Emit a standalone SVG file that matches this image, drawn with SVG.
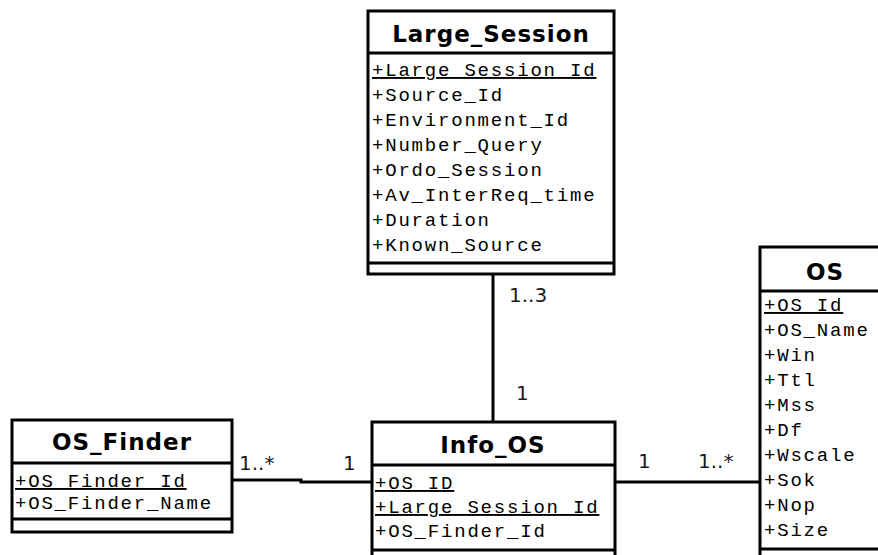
<svg xmlns="http://www.w3.org/2000/svg" width="878" height="555" viewBox="0 0 878 555">
  <style>
    .box { fill: #ffffff; stroke: #000000; stroke-width: 3; }
    .div { stroke: #000000; stroke-width: 3; }
    .title { font-family: "DejaVu Sans", "Liberation Sans", sans-serif; font-weight: bold; font-size: 23px; letter-spacing: 1px; text-anchor: middle; fill: #000000; }
    .attr { font-family: "Liberation Mono", "DejaVu Sans Mono", monospace; font-size: 19px; letter-spacing: 1.8px; fill: #000000; }
    .key { text-decoration: underline; }
    .conn { fill: none; stroke: #000000; stroke-width: 3; }
    .mult { font-family: "DejaVu Sans", "Liberation Sans", sans-serif; font-size: 20px; fill: #1a1a1a; }
  </style>
  <rect width="878" height="555" fill="#ffffff"/>

  <!-- associations -->
  <g id="connectors">
    <line class="conn" x1="493" y1="274" x2="493" y2="422"/>
    <polyline class="conn" points="232,480 301,480 301,482 372,482"/>
    <line class="conn" x1="615" y1="482" x2="760" y2="482"/>
    <text class="mult" x="509" y="302">1..3</text>
    <text class="mult" x="516" y="400">1</text>
    <text class="mult" x="239" y="470">1..*</text>
    <text class="mult" x="343" y="470">1</text>
    <text class="mult" x="638" y="468">1</text>
    <text class="mult" x="698" y="468">1..*</text>
  </g>

  <!-- Large_Session class -->
  <g id="large_session">
    <rect class="box" x="368" y="11" width="246" height="263"/>
    <line class="div" x1="368" y1="53" x2="614" y2="53"/>
    <line class="div" x1="368" y1="263" x2="614" y2="263"/>
    <text class="title" x="491" y="42">Large_Session</text>
    <text class="attr key" x="372" y="76">+Large_Session_Id</text>
    <text class="attr" x="372" y="101">+Source_Id</text>
    <text class="attr" x="372" y="126">+Environment_Id</text>
    <text class="attr" x="372" y="151">+Number_Query</text>
    <text class="attr" x="372" y="176">+Ordo_Session</text>
    <text class="attr" x="372" y="201">+Av_InterReq_time</text>
    <text class="attr" x="372" y="226">+Duration</text>
    <text class="attr" x="372" y="251">+Known_Source</text>
  </g>

  <!-- OS_Finder class -->
  <g id="os_finder">
    <rect class="box" x="12" y="420" width="220" height="112"/>
    <line class="div" x1="12" y1="463" x2="232" y2="463"/>
    <line class="div" x1="12" y1="519" x2="232" y2="519"/>
    <text class="title" x="122" y="450">OS_Finder</text>
    <text class="attr key" x="15" y="487">+OS_Finder_Id</text>
    <text class="attr" x="15" y="509">+OS_Finder_Name</text>
  </g>

  <!-- Info_OS class -->
  <g id="info_os">
    <rect class="box" x="372" y="422" width="243" height="160"/>
    <line class="div" x1="372" y1="465" x2="615" y2="465"/>
    <line class="div" x1="372" y1="550" x2="615" y2="550"/>
    <text class="title" x="493" y="453">Info_OS</text>
    <text class="attr key" x="375" y="489">+OS_ID</text>
    <text class="attr key" x="375" y="513">+Large_Session_Id</text>
    <text class="attr" x="375" y="537">+OS_Finder_Id</text>
  </g>

  <!-- OS class -->
  <g id="os">
    <rect class="box" x="760" y="247" width="140" height="340"/>
    <line class="div" x1="760" y1="291" x2="900" y2="291"/>
    <line class="div" x1="760" y1="549" x2="900" y2="549"/>
    <text class="title" x="825" y="280">OS</text>
    <text class="attr key" x="764" y="311">+OS_Id</text>
    <text class="attr" x="764" y="336">+OS_Name</text>
    <text class="attr" x="764" y="361">+Win</text>
    <text class="attr" x="764" y="386">+Ttl</text>
    <text class="attr" x="764" y="411">+Mss</text>
    <text class="attr" x="764" y="436">+Df</text>
    <text class="attr" x="764" y="461">+Wscale</text>
    <text class="attr" x="764" y="486">+Sok</text>
    <text class="attr" x="764" y="511">+Nop</text>
    <text class="attr" x="764" y="536">+Size</text>
  </g>
</svg>
